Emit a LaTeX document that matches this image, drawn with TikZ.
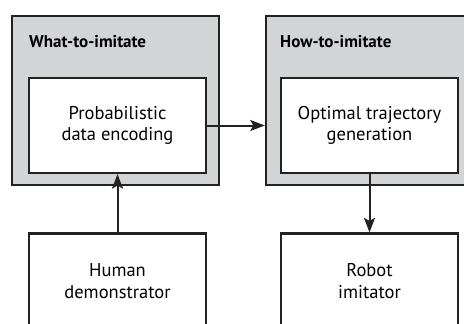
\documentclass[tikz,border=0pt]{standalone}
\usepackage{fontspec}
\setmainfont{PT Sans}
\usetikzlibrary{arrows.meta,calc}
\definecolor{panelgray}{HTML}{D3D4D6}
\definecolor{edge}{HTML}{222222}
\tikzset{
  panel/.style={draw=edge, line width=2.4pt, fill=panelgray, rectangle, inner sep=0pt},
  stagebox/.style={draw=edge, line width=2.2pt, fill=white, rectangle, inner sep=0pt,
    minimum width=177pt, minimum height=95pt, align=center, font=\fontsize{18.5}{21.5}\selectfont},
  paneltitle/.style={anchor=base west, inner sep=0pt, font=\fontsize{17}{19}\selectfont\bfseries},
  flow/.style={draw=edge, line width=2pt, -{Stealth[length=14.5pt,width=11pt,inset=3pt]}}
}
\begin{document}
\begin{tikzpicture}[x=1pt,y=-1pt]
\useasboundingbox (0,0) rectangle (464,324);
\clip (0,0) rectangle (464,324);
% grey panels
\node[panel, minimum width=207pt, minimum height=169pt] (what) at (115.5,100.5) {};
\node[panel, minimum width=214pt, minimum height=169pt] (how) at (373,100.5) {};
\node[paneltitle] (whatlbl) at (29,48) {What-to-imitate};
\node[paneltitle] (howlbl) at (280,48) {How-to-imitate};
% processing stages
\node[stagebox] (enc) at (117.5,125.5) {Probabilistic\\data encoding};
\node[stagebox] (opt) at (369.5,125.5) {Optimal trajectory\\generation};
\node[stagebox] (human) at (117.5,281) {Human\\demonstrator};
\node[stagebox] (robot) at (369.5,281) {Robot\\imitator};
% connectors
\draw[flow] (human.north) -- (enc.south);
\draw[flow] (enc.east) -- (enc.east -| how.west);
\draw[flow] (opt.south) -- (robot.north);
\end{tikzpicture}
\end{document}
